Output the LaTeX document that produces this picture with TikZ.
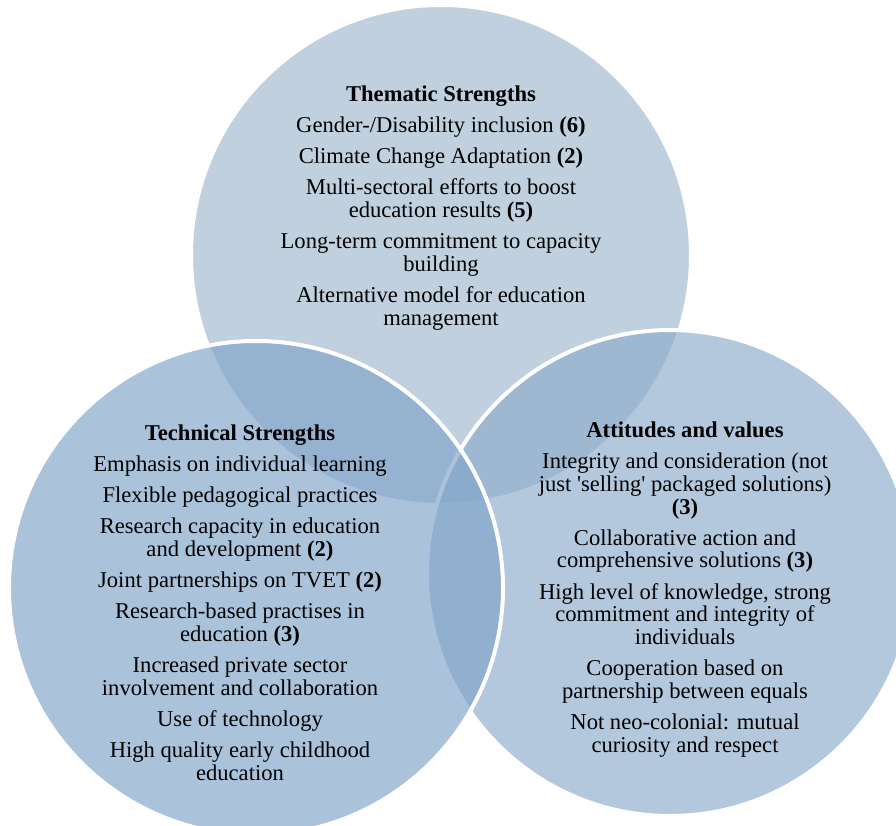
\documentclass[tikz,border=0pt]{standalone}
\usepackage{fontspec}
\setmainfont{Liberation Serif}[Ligatures=TeXOff]
\definecolor{topfill}{RGB}{192,208,222}
\definecolor{leftfill}{RGB}{130,166,202}
\definecolor{rightfill}{RGB}{144,174,205}
\tikzset{
  venn/.style={fill opacity=0.68, draw=white, line width=4pt, draw opacity=1},
  % anchored at the baseline of the last line of each block
  txt/.style={anchor=base, align=center, inner sep=0pt, text=black,
    font=\fontsize{22.6pt}{22.7pt}\selectfont},
}
\begin{document}
\begin{tikzpicture}[x=1pt,y=-1pt]
\useasboundingbox (0,0) rectangle (896,826);

% the three overlapping circles
\filldraw[fill=topfill, draw=white, line width=4pt] (441,255) circle[radius=250pt];
\filldraw[venn, fill=rightfill] (670,573) circle[radius=243pt];
\filldraw[venn, fill=leftfill] (256,588) circle[radius=247pt];

% circle texts
\node[txt] (thematic) at (441,325) {\textbf{Thematic Strengths}\\[8.4pt]
  Gender-/Disability inclusion \textbf{(6)}\\[8.4pt]
  Climate Change Adaptation \textbf{(2)}\\[8.4pt]
  Multi-sectoral efforts to boost\\ education results \textbf{(5)}\\[8.4pt]
  Long-term commitment to capacity\\ building\\[8.4pt]
  Alternative model for education\\ management};

\node[txt] (technical) at (240,780) {\textbf{Technical Strengths}\\[8.4pt]
  Emphasis on individual learning\\[8.4pt]
  Flexible pedagogical practices\\[8.4pt]
  Research capacity in education\\ and development \textbf{(2)}\\[8.4pt]
  Joint partnerships on TVET \textbf{(2)}\\[8.4pt]
  Research-based practises in\\ education \textbf{(3)}\\[8.4pt]
  Increased private sector\\ involvement and collaboration\\[8.4pt]
  Use of technology\\[8.4pt]
  High quality early childhood\\ education};

\node[txt] (attitudes) at (685,752) {\textbf{Attitudes and values}\\[8.4pt]
  Integrity and consideration (not\\ just 'selling' packaged solutions)\\ \textbf{(3)}\\[8.4pt]
  Collaborative action and\\ comprehensive solutions \textbf{(3)}\\[8.4pt]
  High level of knowledge, strong\\ commitment and integrity of\\ individuals\\[8.4pt]
  Cooperation based on\\ partnership between equals\\[8.4pt]
  Not neo-colonial: mutual\\ curiosity and respect};
\end{tikzpicture}
\end{document}
